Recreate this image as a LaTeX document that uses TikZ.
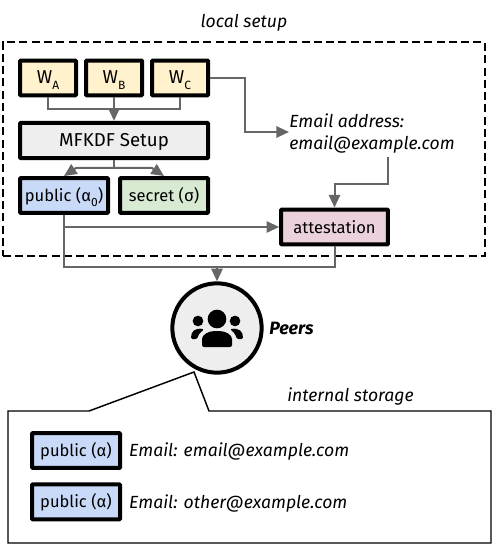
\documentclass[tikz,border=0pt]{standalone}
\usepackage{fontspec}
\setmainfont{Fira Sans}
\usetikzlibrary{arrows.meta, positioning}
\definecolor{keyyellow}{RGB}{255, 242, 204}
\definecolor{setupgray}{RGB}{238, 238, 238}
\definecolor{publicblue}{RGB}{201, 218, 248}
\definecolor{secretgreen}{RGB}{217, 234, 211}
\definecolor{attestpink}{RGB}{234, 209, 220}
\definecolor{linegray}{RGB}{102, 102, 102}
\newcommand{\lowtext}[1]{\raisebox{-0.6ex}{\small #1}}
\newcommand{\capsize}{\fontsize{14}{17}\selectfont}

\begin{document}
\begin{tikzpicture}[
    x=0.75pt, y=-0.75pt,
    every node/.style={font=\fontsize{12.4}{15}\selectfont},
    box/.style={draw=black, line width=3pt, rounded corners=0.6pt, inner sep=0pt,
                minimum height=26.2pt, text height=10.5pt, text depth=1.5pt},
    factor/.style={box, fill=keyyellow, minimum width=42pt, font=\capsize, text height=10pt, text depth=1pt},
    half/.style={box, minimum width=66pt},
    note/.style={font=\fontsize{13.2}{16.5}\selectfont\itshape, inner sep=0pt, text depth=1pt},
    arrow/.style={-{Triangle[length=9.5pt, width=8.5pt]}, line width=1.5pt, linegray},
    wire/.style={line width=1.5pt, linegray}
]
    \useasboundingbox (0,0) rectangle (498,545);

    \node[draw, dash pattern=on 6pt off 3.2pt, line width=1.5pt, minimum width=361.5pt, minimum height=160.5pt,
          inner sep=0pt] (localbox) at (243.5,149) {};
    \node[note] (localtitle) at (244,22) {local setup};

    \node[factor] (wa) at (48,78) {W\lowtext{A}};
    \node[factor, right=4.5pt of wa] (wb) {W\lowtext{B}};
    \node[factor, right=4.5pt of wb] (wc) {W\lowtext{C}};
    \node[box, fill=setupgray, minimum width=141pt, minimum height=26.5pt, font=\capsize] (setup) at (114,140.5) {MFKDF Setup};
    \node[half, fill=publicblue] (pub) at (64,195.5) {public (α\lowtext{0})};
    \node[half, fill=secretgreen] (sec) at (164,195.5) {secret (σ)};
    \node[note, align=left, anchor=west] (email) at (289,132) {Email address:\\email@example.com};
    \node[box, fill=attestpink, minimum width=80pt] (attest) at (334.5,227) {attestation};

    % factors into setup
    \draw[wire] (wa.south) |- (114,109);
    \draw[wire] (wc.south) |- (114,109);
    \draw[arrow] (wb.south) -- (setup.north);
    % setup into the two halves
    \draw[wire] (setup.south) -- (114,168);
    \draw[arrow] (114,168) -- (76,168) -- (pub.north);
    \draw[arrow] (114,168) -- (152,168) -- (sec.north);

    \draw[arrow] (wc.east) -- (245,78) -- (245,132) -- (email.west);
    \draw[arrow] (388,157) -- (388,184) -- (334.5,184) -- (attest.north);
    \draw[arrow] (pub.south) |- (attest.west);

    \node[circle, draw=black, line width=3pt, fill=setupgray, minimum size=67pt, inner sep=0pt] (peers) at (217,328) {};
    \node[font=\fontsize{13.4}{16}\selectfont\bfseries\itshape, inner sep=0pt, anchor=west] (peerlabel) at (269,328) {Peers};
    \draw[wire] (pub.south) |- (217,267);
    \draw[wire] (attest.south) |- (217,267);
    \draw[arrow] (217,267) -- (peers.north);

    % group icon
    \fill (217,319) circle (7pt);
    \fill (198,321) circle (4pt);
    \fill (235,321) circle (4pt);
    \fill[rounded corners=1.5pt] (202,347) -- (202,341) .. controls (202,335) and (208,331) .. (217,331) .. controls (226,331) and (232,335) .. (232,341) -- (232,347) -- cycle;
    \fill[rounded corners=1pt] (191,339) .. controls (191,331) and (195,328) .. (204,329) -- (199,334) -- (197,339) -- cycle;
    \fill[rounded corners=1pt] (243,339) .. controls (243,331) and (239,328) .. (230,329) -- (235,334) -- (237,339) -- cycle;

    \draw[line width=1.1pt, fill=white] (8,411) -- (89,411) -- (194,372) -- (209,411) -- (491,411) -- (491,543) -- (8,543) -- cycle;
    \node[note] (storetitle) at (350.5,395) {internal storage};

    \node[half, fill=publicblue] (pubone) at (76,450.5) {public (α)};
    \node[half, fill=publicblue, below=9.3pt of pubone] (pubtwo) {public (α)};
    \node[note, right=5.2pt of pubone] (mailone) {Email: email@example.com};
    \node[note, right=5.2pt of pubtwo] (mailtwo) {Email: other@example.com};
\end{tikzpicture}
\end{document}
